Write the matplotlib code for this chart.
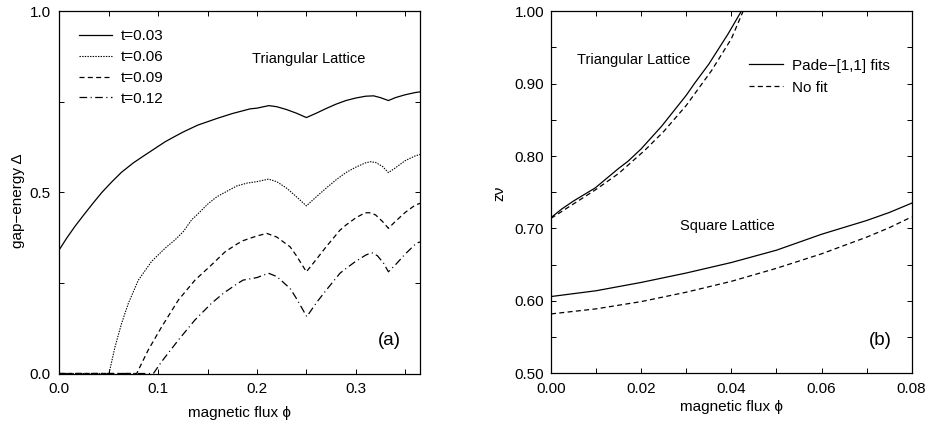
import numpy as np
import matplotlib
matplotlib.use("Agg")
import matplotlib.pyplot as plt
from matplotlib.ticker import MultipleLocator, FormatStrFormatter

# ============================================================
# DATA
# ============================================================

# panel (a): gap energy vs magnetic flux, triangular lattice
PHI_T03 = [0.0, 0.008, 0.016, 0.025, 0.034, 0.043, 0.053, 0.063, 0.075, 0.087,
           0.097, 0.107, 0.117, 0.126, 0.14, 0.16, 0.175, 0.193, 0.20, 0.212,
           0.22, 0.23, 0.24, 0.25, 0.26, 0.27, 0.28, 0.29, 0.30, 0.31, 0.318,
           0.325, 0.333, 0.34, 0.35, 0.36, 0.365]
GAP_T03 = [0.342, 0.376, 0.407, 0.439, 0.470, 0.500, 0.529, 0.556, 0.582, 0.604,
           0.622, 0.640, 0.655, 0.668, 0.686, 0.705, 0.718, 0.731, 0.733, 0.740,
           0.737, 0.729, 0.719, 0.707, 0.719, 0.732, 0.744, 0.754, 0.761, 0.766, 0.767,
           0.762, 0.754, 0.762, 0.770, 0.776, 0.778]

PHI_T06 = [0.0, 0.0503, 0.0564, 0.0631, 0.0699, 0.080, 0.0935, 0.107, 0.117, 0.1255,
           0.134, 0.1373, 0.151, 0.1593, 0.166, 0.1795, 0.19, 0.20, 0.2116,
           0.22, 0.23, 0.24, 0.25, 0.26, 0.27, 0.28, 0.29, 0.30, 0.31, 0.315,
           0.32, 0.327, 0.333, 0.34, 0.35, 0.36, 0.365]
GAP_T06 = [0.0, 0.0, 0.074, 0.139, 0.194, 0.258, 0.310, 0.346, 0.369, 0.392,
           0.425, 0.433, 0.470, 0.488, 0.498, 0.518, 0.526, 0.530, 0.537,
           0.530, 0.512, 0.488, 0.463, 0.488, 0.512, 0.535, 0.555, 0.570, 0.582, 0.585,
           0.583, 0.572, 0.555, 0.568, 0.588, 0.601, 0.605]

PHI_T09 = [0.0, 0.0783, 0.09, 0.1036, 0.1205, 0.1373, 0.154, 0.1677, 0.18, 0.186,
           0.20, 0.21, 0.22, 0.2335, 0.24, 0.25, 0.26, 0.27, 0.284, 0.29, 0.30,
           0.3094, 0.315, 0.32, 0.327, 0.333, 0.34, 0.35, 0.36, 0.365]
GAP_T09 = [0.0, 0.0, 0.065, 0.129, 0.203, 0.258, 0.300, 0.336, 0.358, 0.367,
           0.380, 0.387, 0.377, 0.350, 0.325, 0.281, 0.315, 0.350, 0.396, 0.410, 0.430,
           0.444, 0.444, 0.438, 0.420, 0.401, 0.420, 0.445, 0.465, 0.470]

PHI_T12 = [0.0, 0.0952, 0.1036, 0.1205, 0.1373, 0.154, 0.166, 0.18, 0.186, 0.20,
           0.2116, 0.22, 0.2335, 0.24, 0.2504, 0.26, 0.27, 0.284, 0.29,
           0.30, 0.31, 0.316, 0.322, 0.328, 0.333, 0.34, 0.35, 0.3617, 0.365]
GAP_T12 = [0.0, 0.0, 0.033, 0.0925, 0.148, 0.194, 0.2215, 0.248, 0.258, 0.265,
           0.277, 0.268, 0.235, 0.207, 0.157, 0.195, 0.230, 0.277, 0.290,
           0.310, 0.327, 0.334, 0.325, 0.305, 0.281, 0.300, 0.330, 0.361, 0.363]

T_LABELS = ["t=0.03", "t=0.06", "t=0.09", "t=0.12"]

# panel (b): z*nu vs magnetic flux
PHI_TRI_FIT = [0.0, 0.0024, 0.005, 0.0098, 0.015, 0.0171, 0.02, 0.0245, 0.03,
               0.0319, 0.035, 0.0393, 0.0422]
ZNU_TRI_FIT = [0.715, 0.727, 0.738, 0.756, 0.783, 0.793, 0.810, 0.841, 0.884,
               0.901, 0.927, 0.969, 1.0]
PHI_TRI_NOFIT = [0.0, 0.005, 0.01, 0.015, 0.0208, 0.025, 0.0282, 0.03, 0.0356,
                 0.04, 0.0426]
ZNU_TRI_NOFIT = [0.714, 0.734, 0.754, 0.776, 0.808, 0.834, 0.857, 0.870, 0.918,
                 0.962, 1.0]

PHI_SQ = [0.0, 0.01, 0.02, 0.03, 0.04, 0.05, 0.06, 0.07, 0.075, 0.08]
ZNU_SQ_FIT = [0.606, 0.614, 0.6255, 0.6385, 0.653, 0.670, 0.692, 0.711, 0.722, 0.735]
ZNU_SQ_NOFIT = [0.582, 0.589, 0.599, 0.612, 0.627, 0.645, 0.665, 0.688, 0.701, 0.716]

FIT_LABELS = ["Pade\u2212[1,1] fits", "No fit"]

# ============================================================
# STYLE
# ============================================================

plt.rcParams['font.family'] = ['Liberation Sans', 'DejaVu Sans']
plt.rcParams['lines.scale_dashes'] = False
FS = 11
LW = 0.9

SOLID = '-'
DOTTED = (0, (1.0, 0.9))
DASHED = (0, (3.6, 2.4))
DASHDOT = (0, (5.5, 2.5, 0.8, 2.5))


def style_axes(ax, ypad):
    ax.tick_params(which='both', direction='in', top=True, right=True,
                   length=3.5, width=0.7, labelsize=FS)
    ax.tick_params(axis='x', pad=6)
    ax.tick_params(axis='y', pad=ypad)
    for sp in ax.spines.values():
        sp.set_linewidth(0.9)


fig = plt.figure(figsize=(9.25, 4.24), dpi=100)
ax1 = fig.add_axes([0.0641, 0.1191, 0.3900, 0.8538])
ax2 = fig.add_axes([0.5957, 0.1196, 0.3899, 0.8538])

# ---------------- panel (a) ----------------
ax1.plot(PHI_T03, GAP_T03, color='black', lw=LW, ls=SOLID, label=T_LABELS[0])
ax1.plot(PHI_T06, GAP_T06, color='black', lw=0.8, ls=DOTTED, label=T_LABELS[1])
ax1.plot(PHI_T09, GAP_T09, color='black', lw=LW, ls=DASHED, label=T_LABELS[2])
ax1.plot(PHI_T12, GAP_T12, color='black', lw=LW, ls=DASHDOT, label=T_LABELS[3])

ax1.set_xlim(0, 0.365)
ax1.set_ylim(0, 1.0)
ax1.xaxis.set_major_locator(MultipleLocator(0.1))
ax1.xaxis.set_minor_locator(MultipleLocator(0.05))
ax1.yaxis.set_major_locator(MultipleLocator(0.5))
ax1.yaxis.set_minor_locator(MultipleLocator(0.25))
ax1.xaxis.set_major_formatter(FormatStrFormatter('%.1f'))
ax1.yaxis.set_major_formatter(FormatStrFormatter('%.1f'))
style_axes(ax1, 6)
ax1.set_xlabel('magnetic flux \u03d5', fontsize=FS)
ax1.set_ylabel('gap\u2212energy \u0394', fontsize=FS)
ax1.xaxis.set_label_coords(0.5, -0.09)
ax1.yaxis.set_label_coords(-0.095, 0.477)

ax1.legend(loc='upper left', bbox_to_anchor=(0.024, 0.98), frameon=False,
           fontsize=FS, handlelength=2.2, handletextpad=0.55, labelspacing=0.44,
           borderpad=0.2)
ax1.text(0.69, 0.87, 'Triangular Lattice', transform=ax1.transAxes,
         fontsize=10.5, ha='center', va='center')
ax1.text(0.915, 0.09, '(a)', transform=ax1.transAxes,
         fontsize=13.5, ha='center', va='center')

# ---------------- panel (b) ----------------
ax2.plot(PHI_TRI_FIT, ZNU_TRI_FIT, color='black', lw=LW, ls=SOLID, label=FIT_LABELS[0])
ax2.plot(PHI_TRI_NOFIT, ZNU_TRI_NOFIT, color='black', lw=LW, ls=DASHED, label=FIT_LABELS[1])
ax2.plot(PHI_SQ, ZNU_SQ_FIT, color='black', lw=LW, ls=SOLID)
ax2.plot(PHI_SQ, ZNU_SQ_NOFIT, color='black', lw=LW, ls=DASHED)

ax2.set_xlim(0, 0.08)
ax2.set_ylim(0.5, 1.0)
ax2.xaxis.set_major_locator(MultipleLocator(0.02))
ax2.xaxis.set_minor_locator(MultipleLocator(0.01))
ax2.yaxis.set_major_locator(MultipleLocator(0.1))
ax2.yaxis.set_minor_locator(MultipleLocator(0.05))
ax2.xaxis.set_major_formatter(FormatStrFormatter('%.2f'))
ax2.yaxis.set_major_formatter(FormatStrFormatter('%.2f'))
style_axes(ax2, 5)
ax2.set_xlabel('magnetic flux \u03d5', fontsize=FS)
ax2.set_ylabel('z\u03bd', fontsize=FS)
ax2.xaxis.set_label_coords(0.5, -0.075)
ax2.yaxis.set_label_coords(-0.124, 0.498)

ax2.legend(loc='upper left', bbox_to_anchor=(0.52, 0.899), frameon=False,
           fontsize=FS, handlelength=2.2, handletextpad=0.6, labelspacing=0.53,
           borderpad=0.2)
ax2.text(0.23, 0.866, 'Triangular Lattice', transform=ax2.transAxes,
         fontsize=10.5, ha='center', va='center')
ax2.text(0.49, 0.407, 'Square Lattice', transform=ax2.transAxes,
         fontsize=10.5, ha='center', va='center')
ax2.text(0.913, 0.09, '(b)', transform=ax2.transAxes,
         fontsize=13.5, ha='center', va='center')

fig.savefig('out.png', dpi=100)
